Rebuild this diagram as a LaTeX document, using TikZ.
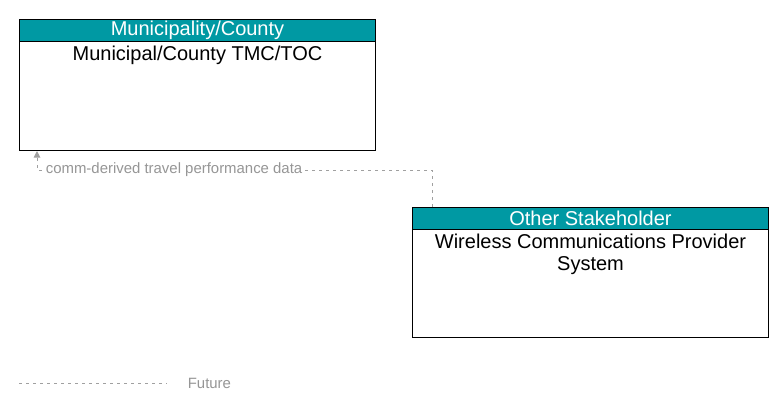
\documentclass[tikz,border=0pt]{standalone}
\usepackage{fontspec}
\setmainfont{Liberation Sans}
\usetikzlibrary{arrows.meta}

\definecolor{hdrteal}{RGB}{0,153,163}
\definecolor{flowgray}{RGB}{160,160,160}
\definecolor{lblgray}{RGB}{150,150,150}

\tikzset{every picture/.style={line width=0.75pt}}
\tikzset{
	entity/.style={draw=black, fill=white, anchor=north west, minimum width=267pt, inner sep=0pt},
	entityhdr/.style={draw=black, fill=hdrteal, text=white, anchor=north west, minimum width=267pt, minimum height=16.5pt, inner sep=0pt, font=\fontsize{15pt}{16.5pt}\selectfont},
	entitytxt/.style={anchor=north, align=center, inner sep=2.75pt, font=\fontsize{15pt}{16.5pt}\selectfont},
	flowfuture/.style={draw=flowgray, dash pattern=on 2.25pt off 3pt},
	flowlbl/.style={text=lblgray, fill=white, inner sep=1pt, font=\fontsize{11.2pt}{13pt}\selectfont}
}

\begin{document}
\begin{tikzpicture}[x=0.75pt,y=0.75pt,yscale=-1,xscale=1]
	\useasboundingbox (0,0) rectangle (783,412);
	
	% Municipal/County TMC/TOC
	\node [entity, minimum height=98.25pt] (tmc) at (19,19) {};
	\node [entityhdr] (tmchdr) at (19,19) {Municipality/County};
	\node [entitytxt] (tmctxt) at (tmchdr.south) {Municipal/County TMC/TOC};
	
	% Wireless Communications Provider System
	\node [entity, minimum height=97.5pt] (wcp) at (412,207) {};
	\node [entityhdr] (wcphdr) at (412,207) {Other Stakeholder};
	\node [entitytxt] (wcptxt) at (wcphdr.south) {Wireless Communications Provider\\System};
	
	% Flow
	\coordinate (wcpout) at (432,207);
	\coordinate (flowbend) at (37,170);
	\draw [flowfuture, -{Triangle[fill=flowgray,width=5pt,length=5pt]}] (wcpout) |- (flowbend) -- (tmc.south -| flowbend);
	\node [flowlbl, anchor=west] (flowtxt) at (44,170) {comm-derived travel performance data};
	
	% Legend
	\coordinate (lgstart) at (19,383);
	\coordinate (lgend) at (167,383);
	\draw [flowfuture] (lgstart) -- (lgend);
	\node [flowlbl, anchor=west] (lgtxt) at (186,383) {Future};
	
\end{tikzpicture}
\end{document}
